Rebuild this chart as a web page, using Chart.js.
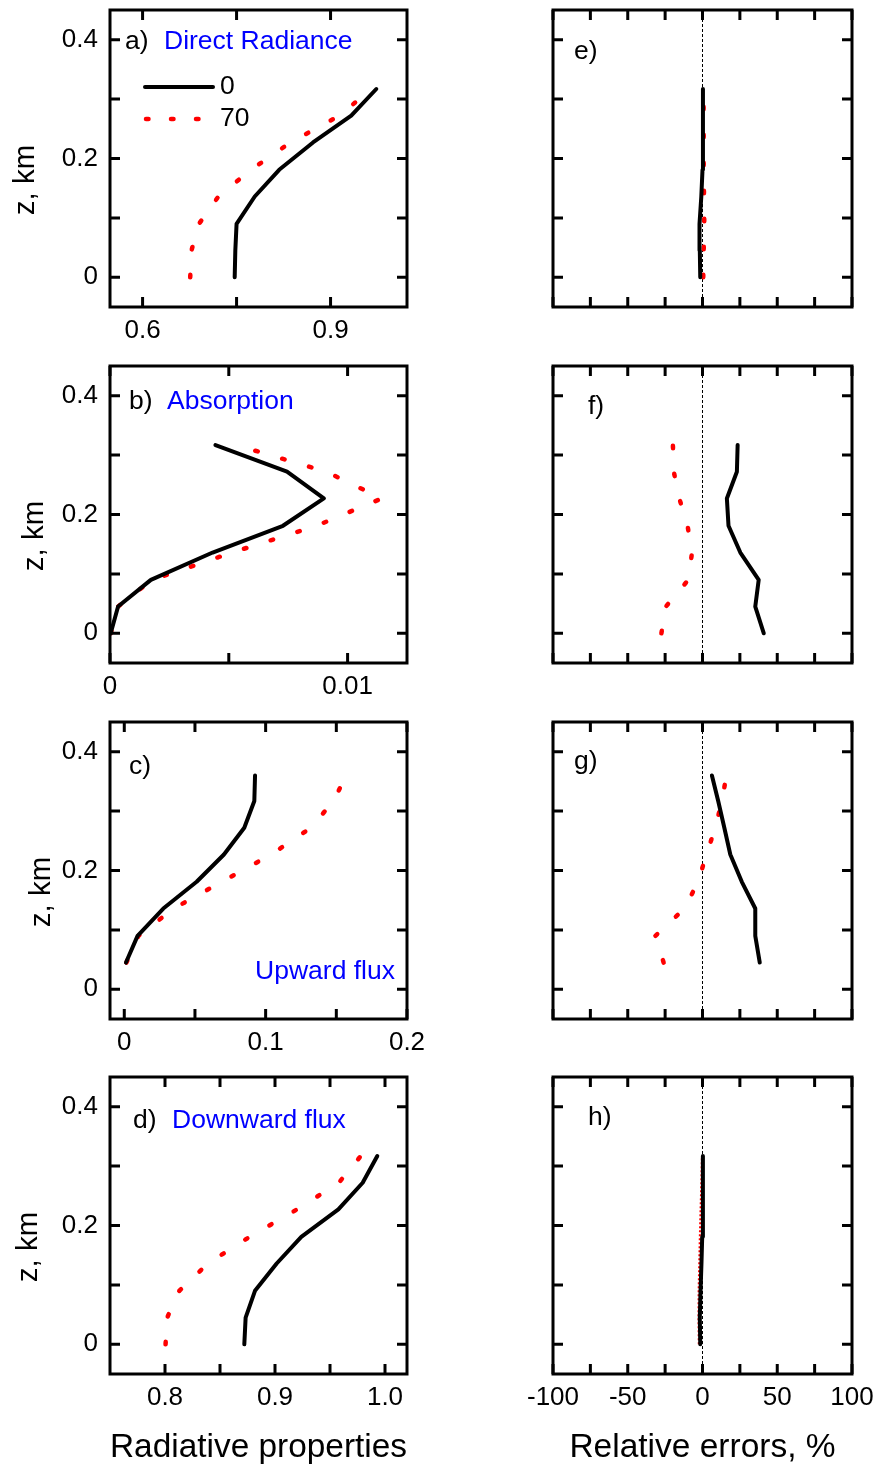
<!DOCTYPE html>
<html>
<head>
<meta charset="utf-8">
<script src="https://cdn.jsdelivr.net/npm/chart.js@4.4.1/dist/chart.umd.min.js"></script>
<style>
  html, body { margin: 0; padding: 0; background: #fff; }
  #page { position: relative; width: 878px; height: 1471px; overflow: hidden; background: #fff; }
  #page canvas { position: absolute; }
</style>
</head>
<body>
<div id="page"></div>
<script>
// ── Heights (km) ──────────────────────────────────────────────────────────────
const zLevels   = [0, 0.045, 0.09, 0.136, 0.181, 0.227, 0.272, 0.317];
const zLevelsUp = [0.045, 0.09, 0.136, 0.181, 0.227, 0.272, 0.317, 0.36];

// ── Radiative properties (black = 0, red = 70) ───────────────────────────────
const radBlack = [0.747, 0.748, 0.750, 0.779, 0.818, 0.872, 0.933, 0.973];
const radRed   = [0.676, 0.678, 0.690, 0.721, 0.773, 0.836, 0.914, 0.965];
const absBlack = [0.00003, 0.00034, 0.00172, 0.00432, 0.00728, 0.0090, 0.00745, 0.00444];
const absRed   = [0.00003, 0.00034, 0.00177, 0.00514, 0.00869, 0.01144, 0.0091, 0.0053];
const upBlack  = [0.0012, 0.0094, 0.0276, 0.0512, 0.0705, 0.0849, 0.092, 0.0925];
const upRed    = [0.0015, 0.010, 0.035, 0.069, 0.104, 0.132, 0.148, 0.157];
const dnBlack  = [0.8721, 0.8733, 0.8818, 0.9015, 0.9239, 0.9576, 0.9797, 0.993];
const dnRed    = [0.8005, 0.802, 0.813, 0.839, 0.877, 0.920, 0.958, 0.978];

// ── Relative errors, % ───────────────────────────────────────────────────────
const errDirBlack = [-1.5, -1.8, -2.0, -0.8, 0.0, 0.3, 0.3, 0.3];
const errDirRed   = [0.5, 0.8, 1.2, 1.0, 0.8, 0.8, 0.8, 0.6];
const errAbsBlack = [41, 35.3, 37.6, 25.3, 17.4, 16.3, 23, 23.5];
const errAbsRed   = [-27.5, -24.5, -9.5, -7, -10, -15.5, -19.2, -19.8];
const errUpBlack  = [38.3, 35.3, 35.3, 26.3, 18.6, 14.6, 10.5, 6.3];
const errUpRed    = [-26, -31.5, -12, -3, 2.7, 8.5, 13, 16];
const errDnBlack  = [-1.5, -1.8, -1.3, -0.7, -0.2, 0.2, 0.3, 0.3];
const errDnRed    = [-2.5, -2.7, -2.6, -2.2, -1.8, -1.3, -0.8, -0.4];

// ── Ticks ────────────────────────────────────────────────────────────────────
const zTicks  = [0, 0.1, 0.2, 0.3, 0.4];
const zMajor  = [0, 0.2, 0.4];
const zLabels = ['0', '0.2', '0.4'];

const xTicksA = [0.6, 0.75, 0.9];            const xMajorA = [0.6, 0.9];        const xLabelsA = ['0.6', '0.9'];
const xTicksB = [0, 0.005, 0.01];            const xMajorB = [0, 0.01];         const xLabelsB = ['0', '0.01'];
const xTicksC = [0, 0.05, 0.1, 0.15, 0.2];   const xMajorC = [0, 0.1, 0.2];     const xLabelsC = ['0', '0.1', '0.2'];
const xTicksD = [0.8, 0.85, 0.9, 0.95, 1.0]; const xMajorD = [0.8, 0.9, 1.0];   const xLabelsD = ['0.8', '0.9', '1.0'];
const errTicks  = [-100, -75, -50, -25, 0, 25, 50, 75, 100];
const errMajor  = [-100, -50, 0, 50, 100];
const errLabels = ['-100', '-50', '0', '50', '100'];

const legendLabels = ['0', '70'];

// ── Layout ───────────────────────────────────────────────────────────────────
const FONT    = 'Liberation Sans, Arial, Helvetica, sans-serif';
const TICK    = 10;
const ROW_TOP = [10, 366, 722, 1077];
const PLOT_H  = 297;
const COLS = [
  { left: 0,   width: 440, axisW: 110, padR: 33 },
  { left: 520, width: 358, axisW: 33,  padR: 26 },
];

const PANELS = [
  { col: 0, row: 0, xMin: 0.548, xMax: 1.022, ticks: xTicksA, major: xMajorA, labels: xLabelsA,
    z: zLevels, black: radBlack, red: radRed, tag: 'a)', tagX: 15, tagY: 32,
    name: 'Direct Radiance', nameX: 54, zTitleX: 26, legend: true },
  { col: 0, row: 1, xMin: 0, xMax: 0.0125, ticks: xTicksB, major: xMajorB, labels: xLabelsB,
    z: zLevels, black: absBlack, red: absRed, tag: 'b)', tagX: 19, tagY: 36,
    name: 'Absorption', nameX: 57, zTitleX: 35 },
  { col: 0, row: 2, xMin: -0.0101, xMax: 0.2, ticks: xTicksC, major: xMajorC, labels: xLabelsC,
    z: zLevelsUp, black: upBlack, red: upRed, tag: 'c)', tagX: 19, tagY: 45,
    name: 'Upward flux', nameRight: 12, nameY: 250, zTitleX: 42 },
  { col: 0, row: 3, xMin: 0.75, xMax: 1.02, ticks: xTicksD, major: xMajorD, labels: xLabelsD,
    z: zLevels, black: dnBlack, red: dnRed, tag: 'd)', tagX: 23, tagY: 44,
    name: 'Downward flux', nameX: 62, zTitleX: 29, xTitle: 'Radiative properties' },
  { col: 1, row: 0, z: zLevels,   black: errDirBlack, red: errDirRed, tag: 'e)', tagX: 21, tagY: 42 },
  { col: 1, row: 1, z: zLevels,   black: errAbsBlack, red: errAbsRed, tag: 'f)', tagX: 35, tagY: 41 },
  { col: 1, row: 2, z: zLevelsUp, black: errUpBlack,  red: errUpRed,  tag: 'g)', tagX: 21, tagY: 40 },
  { col: 1, row: 3, z: zLevels,   black: errDnBlack,  red: errDnRed,  tag: 'h)', tagX: 35, tagY: 41,
    thinRed: true, xTitle: 'Relative errors, %' },
];

// ── Helpers ──────────────────────────────────────────────────────────────────
const toPoints = (xs, zs) => xs.map((v, i) => ({ x: v, y: zs[i] }));

function labelFor(value, major, labels) {
  const i = major.findIndex(m => Math.abs(m - value) < 1e-9);
  return i >= 0 ? labels[i] : '';
}

// Frame, inward ticks, panel tags, legend and z title
function framePlugin(p) {
  return {
    id: 'frame',
    afterDatasetsDraw(chart) {
      const { ctx, chartArea: a, scales: { x, y } } = chart;
      ctx.save();
      ctx.strokeStyle = '#000';
      ctx.lineWidth = 3;
      ctx.beginPath();
      x.ticks.forEach(t => {
        const px = x.getPixelForValue(t.value);
        ctx.moveTo(px, a.bottom); ctx.lineTo(px, a.bottom - TICK);
        ctx.moveTo(px, a.top);    ctx.lineTo(px, a.top + TICK);
      });
      y.ticks.forEach(t => {
        const py = y.getPixelForValue(t.value);
        ctx.moveTo(a.left, py);  ctx.lineTo(a.left + TICK, py);
        ctx.moveTo(a.right, py); ctx.lineTo(a.right - TICK, py);
      });
      ctx.stroke();
      ctx.lineJoin = 'miter';
      ctx.strokeRect(a.left, a.top, a.right - a.left, a.bottom - a.top);

      ctx.textBaseline = 'middle';
      ctx.font = '26.5px ' + FONT;
      ctx.fillStyle = '#000';
      ctx.textAlign = 'left';
      ctx.fillText(p.tag, a.left + p.tagX, a.top + p.tagY);

      if (p.name) {
        ctx.fillStyle = '#0000ff';
        if (p.nameRight !== undefined) {
          ctx.textAlign = 'right';
          ctx.fillText(p.name, a.right - p.nameRight, a.top + p.nameY);
        } else {
          ctx.fillText(p.name, a.left + p.nameX, a.top + p.tagY);
        }
      }

      if (p.legend) {
        ctx.textAlign = 'left';
        ctx.fillStyle = '#000';
        ctx.lineCap = 'round';
        ctx.lineWidth = 4;
        ctx.beginPath();
        ctx.moveTo(a.left + 35, a.top + 77); ctx.lineTo(a.left + 103, a.top + 77);
        ctx.stroke();
        ctx.fillText(legendLabels[0], a.left + 110, a.top + 77);
        ctx.strokeStyle = '#ff0000';
        ctx.lineWidth = 4.5;
        ctx.setLineDash([2.5, 22.5]);
        ctx.beginPath();
        ctx.moveTo(a.left + 36, a.top + 109); ctx.lineTo(a.left + 90, a.top + 109);
        ctx.stroke();
        ctx.setLineDash([]);
        ctx.fillText(legendLabels[1], a.left + 110, a.top + 109);
      }

      if (p.col === 0) {
        ctx.fillStyle = '#000';
        ctx.font = '29.5px ' + FONT;
        ctx.textAlign = 'center';
        ctx.translate(p.zTitleX, a.top + 170);
        ctx.rotate(-Math.PI / 2);
        ctx.fillText('z, km', 0, 0);
      }
      ctx.restore();
    },
  };
}

// ── Panels ───────────────────────────────────────────────────────────────────
const page = document.getElementById('page');

PANELS.forEach(p => {
  const col = COLS[p.col];
  const top = ROW_TOP[p.row] - 10;
  const height = p.row < 3 ? 355 : 1471 - top;
  const isErr = p.col === 1;

  const canvas = document.createElement('canvas');
  canvas.width = col.width;
  canvas.height = height;
  canvas.style.left = col.left + 'px';
  canvas.style.top = top + 'px';
  page.appendChild(canvas);

  const xTicks  = isErr ? errTicks : p.ticks;
  const xMajor  = isErr ? errMajor : p.major;
  const xLabels = isErr ? errLabels : p.labels;
  const showX   = !isErr || p.row === 3;

  const datasets = [
    {
      data: toPoints(p.black, p.z), showLine: true,
      borderColor: '#000', borderWidth: 4, borderCapStyle: 'round', borderJoinStyle: 'round',
      pointRadius: 0,
    },
    {
      data: toPoints(p.red, p.z), showLine: true,
      borderColor: '#ff0000',
      borderWidth: p.thinRed ? 2 : 4.5,
      borderDash: p.thinRed ? [2, 2] : [2.5, 25.5],
      borderCapStyle: p.thinRed ? 'butt' : 'round',
      pointRadius: 0,
    },
  ];
  if (isErr) {
    datasets.push({
      data: [{ x: 0, y: -0.05 }, { x: 0, y: 0.45 }], showLine: true,
      borderColor: '#000', borderWidth: 1, borderDash: [3, 2], pointRadius: 0,
    });
  }

  new Chart(canvas.getContext('2d'), {
    type: 'scatter',
    data: { datasets },
    plugins: [framePlugin(p)],
    options: {
      responsive: false, animation: false, devicePixelRatio: 1,
      layout: { padding: { top: 10, left: 0, right: col.padR, bottom: 0 } },
      plugins: { legend: { display: false }, tooltip: { enabled: false } },
      scales: {
        x: {
          type: 'linear', position: 'bottom',
          min: isErr ? -100 : p.xMin, max: isErr ? 100 : p.xMax,
          grid: { display: false, drawTicks: false }, border: { display: false },
          afterBuildTicks: s => { s.ticks = xTicks.map(v => ({ value: v })); },
          afterFit: s => { s.height = height - 10 - PLOT_H; s.paddingLeft = 0; s.paddingRight = 0; },
          ticks: {
            display: showX, autoSkip: false, maxRotation: 0, padding: 8,
            color: '#000', font: { family: FONT, size: 26 },
            callback: v => labelFor(v, xMajor, xLabels),
          },
          title: {
            display: !!p.xTitle, text: p.xTitle || '', color: '#000',
            font: { family: FONT, size: 33.5 }, padding: { top: 0, bottom: 3 },
          },
        },
        y: {
          type: 'linear', position: 'left', min: -0.05, max: 0.45,
          grid: { display: false, drawTicks: false }, border: { display: false },
          afterBuildTicks: s => { s.ticks = zTicks.map(v => ({ value: v })); },
          afterFit: s => { s.width = col.axisW; s.paddingTop = 0; s.paddingBottom = 0; },
          ticks: {
            display: !isErr, autoSkip: false, padding: 12,
            color: '#000', font: { family: FONT, size: 26 },
            callback: v => labelFor(v, zMajor, zLabels),
          },
        },
      },
    },
  });
});
</script>
</body>
</html>
